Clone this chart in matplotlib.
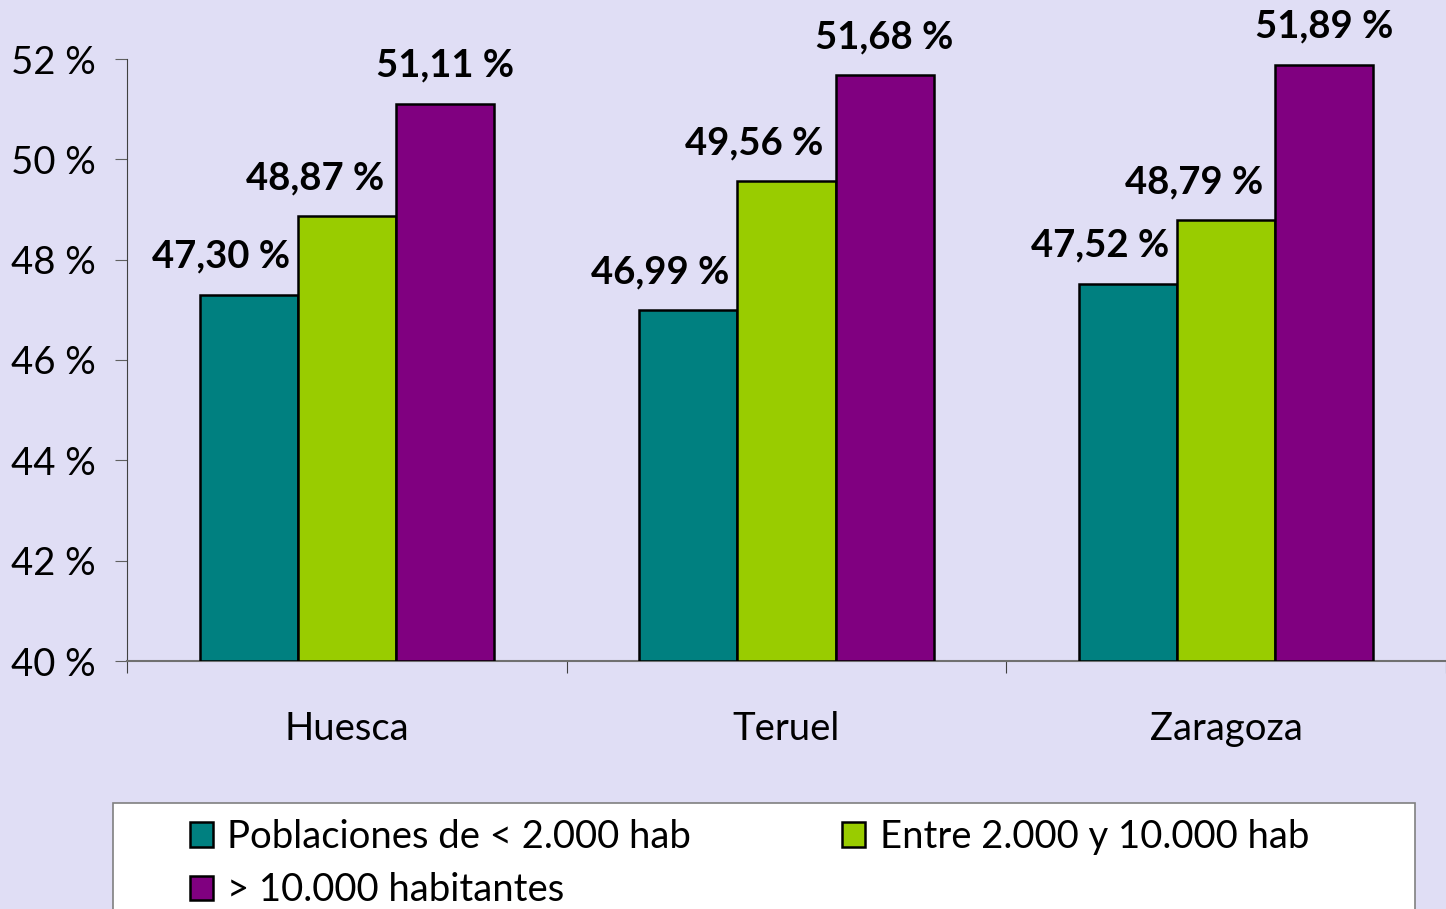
import numpy as np
import matplotlib.pyplot as plt
from matplotlib.patches import Rectangle

# Porcentaje por provincia y tamaño de población
provincias = ['Huesca', 'Teruel', 'Zaragoza']
menos_2000 = [47.30, 46.99, 47.52]
entre_2000_10000 = [48.87, 49.56, 48.79]
mas_10000 = [51.11, 51.68, 51.89]

series = ['Poblaciones de < 2.000 hab', 'Entre 2.000 y 10.000 hab', '> 10.000 habitantes']
colores = ['#008080', '#99CC00', '#800080']
yticks = [40, 42, 44, 46, 48, 50, 52]

plt.rcParams['font.family'] = ['Lato', 'DejaVu Sans']
fondo = '#E0DEF5'
fs = 27.5

fig = plt.figure(figsize=(14.46, 9.09), dpi=100, facecolor=fondo)
ax = fig.add_axes([127/1446, 1-661/909, 1-127/1446, (661-59)/909])
ax.set_facecolor(fondo)

x = np.arange(len(provincias))
w = 0.223
offsets_lbl = [-28, -32, 0]  # desplazamiento de etiquetas (px), como en el original
barras = []
for i, (vals, col) in enumerate(zip([menos_2000, entre_2000_10000, mas_10000], colores)):
    b = ax.bar(x + (i-1)*w, np.array(vals) - 40, bottom=40, width=w, color=col,
               edgecolor='black', linewidth=1.8, label=series[i], zorder=3)
    barras.append(b)
    for xi, v in zip(x + (i-1)*w, vals):
        ax.annotate(('%.2f %%' % v).replace('.', ','), (xi, v),
                    xytext=(offsets_lbl[i], 38), textcoords='offset pixels',
                    ha='center', va='center', fontsize=fs, fontweight='bold',
                    annotation_clip=False)

ax.set_xlim(-0.5, 2.5)
ax.set_ylim(40, 52)
ax.set_yticks(yticks)
ax.set_yticklabels(['%d %%' % t for t in yticks], fontsize=fs)
ax.set_xticks([-0.5, 0.5, 1.5, 2.5])
ax.set_xticklabels([])
ax.set_xticks(x, minor=True)
ax.set_xticklabels(provincias, minor=True, fontsize=fs)
ax.tick_params(axis='x', which='major', length=8.6, color='#404040', direction='out')
ax.tick_params(axis='x', which='minor', length=0, pad=36)
ax.tick_params(axis='y', length=8.6, color='#606060', pad=14)

for s in ['top', 'right']:
    ax.spines[s].set_visible(False)
ax.spines['left'].set_color('#404040')
ax.spines['bottom'].set_color('#707070')
ax.spines['bottom'].set_linewidth(1.5)

# marco de la leyenda
fig.patches.append(Rectangle((113/1446, -0.05), (1415-113)/1446, 0.05 + 1-803/909,
                             transform=fig.transFigure, facecolor='white',
                             edgecolor='#808080', linewidth=1.2))

h = [barras[0], barras[2], barras[1]]
l = [series[0], series[2], series[1]]
leg = fig.legend(h, l, ncol=2, loc='upper left',
                 bbox_to_anchor=(190/1446, 1-819/909),
                 fontsize=fs, frameon=False,
                 handlelength=0.6, handleheight=0.6, handletextpad=0.38,
                 labelspacing=0.45, columnspacing=3.95, borderpad=0, borderaxespad=0)
for p in leg.get_patches():
    p.set_linewidth(1.8)

fig.savefig('out.png', dpi=100, facecolor=fondo)
